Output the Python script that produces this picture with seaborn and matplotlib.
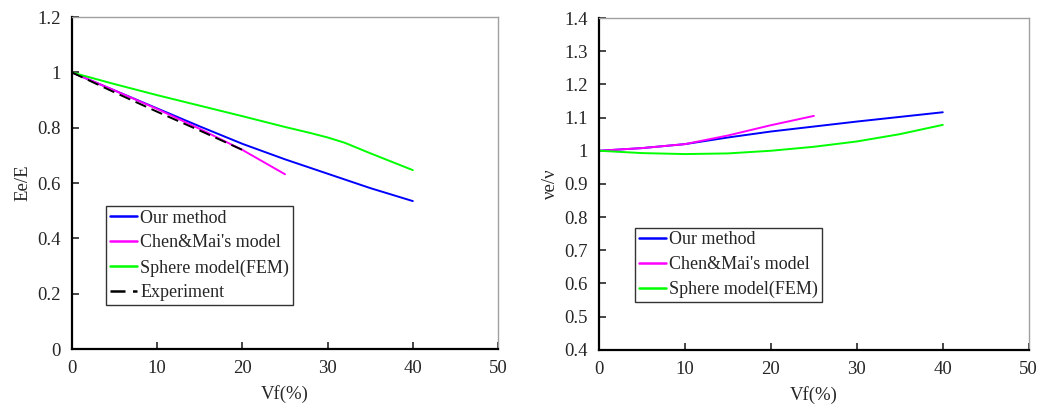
import numpy as np
import pandas as pd
import matplotlib
matplotlib.use("Agg")
import matplotlib.pyplot as plt
import seaborn as sns

# ---- data: left panel (Ee/E) ----
x_our = [0, 5, 10, 15, 20, 25, 30, 35, 40]
e_our = [1.0, 0.935, 0.870, 0.805, 0.742, 0.686, 0.634, 0.582, 0.535]
x_chen = [0, 5, 10, 15, 20, 25]
e_chen = [1.0, 0.935, 0.868, 0.796, 0.720, 0.632]
x_fem = [0, 5, 10, 15, 20, 25, 28, 30, 32, 35, 40]
e_fem = [1.0, 0.958, 0.918, 0.880, 0.842, 0.803, 0.781, 0.765, 0.746, 0.708, 0.647]
x_exp = [0, 5, 10, 15, 20]
e_exp = [1.0, 0.928, 0.858, 0.790, 0.720]

# ---- data: right panel (ve/v) ----
v_our = [1.0, 1.008, 1.020, 1.040, 1.058, 1.073, 1.088, 1.102, 1.116]
v_chen = [1.0, 1.008, 1.020, 1.046, 1.077, 1.105]
x_fem_v = [0, 5, 10, 15, 20, 25, 30, 35, 40]
v_fem = [1.0, 0.993, 0.990, 0.992, 1.000, 1.012, 1.028, 1.050, 1.078]

labels = ["Our method", "Chen&Mai's model", "Sphere model(FEM)", "Experiment"]
colors = {"Our method": "#0000FF", "Chen&Mai's model": "#FF00FF",
          "Sphere model(FEM)": "#00FF00", "Experiment": "#000000"}
dashes = {"Our method": "", "Chen&Mai's model": "", "Sphere model(FEM)": "",
          "Experiment": (6, 3)}

def long_df(parts):
    frames = []
    for name, xs, ys in parts:
        frames.append(pd.DataFrame({"x": xs, "y": ys, "series": name}))
    return pd.concat(frames, ignore_index=True)

df_e = long_df([(labels[0], x_our, e_our), (labels[1], x_chen, e_chen),
                (labels[2], x_fem, e_fem), (labels[3], x_exp, e_exp)])
df_v = long_df([(labels[0], x_our, v_our), (labels[1], x_chen, v_chen),
                (labels[2], x_fem_v, v_fem)])

sns.set_style("white")
plt.rcParams["font.family"] = ["Liberation Serif", "DejaVu Serif"]
plt.rcParams["font.size"] = 13

fig = plt.figure(figsize=(10.48, 4.19), dpi=100)
ax1 = fig.add_axes([0.0687, 0.167, 0.4065, 0.792])
ax2 = fig.add_axes([0.5716, 0.165, 0.410, 0.792])

def style(ax, ylim, yticks, ylabel):
    ax.set_xlim(0, 50)
    ax.set_ylim(*ylim)
    ax.set_xticks([0, 10, 20, 30, 40, 50])
    ax.set_yticks(yticks)
    ax.set_yticklabels([("%g" % t) for t in yticks])
    ax.tick_params(direction="in", length=5, width=1.2, labelsize=13.5,
                   top=False, right=False, left=True, bottom=True, pad=8)
    for s in ["left", "bottom"]:
        ax.spines[s].set_color("black")
        ax.spines[s].set_linewidth(1.6)
    for s in ["top", "right"]:
        ax.spines[s].set_color("#a0a0a0")
        ax.spines[s].set_linewidth(1.0)
    ax.set_xlabel("Vf(%)", fontsize=13.5, labelpad=6)
    ax.set_ylabel(ylabel, fontsize=13.5, labelpad=4)

def legend(ax, anchor):
    leg = ax.legend(loc="lower left", bbox_to_anchor=anchor, fontsize=13,
                    frameon=True, fancybox=False, borderpad=0.2, labelspacing=0.43,
                    handlelength=1.5, handletextpad=0.2, borderaxespad=0)
    leg.get_frame().set_edgecolor("black")
    leg.get_frame().set_linewidth(1.0)
    for line in leg.get_lines():
        line.set_linewidth(1.8)

sns.lineplot(data=df_e, x="x", y="y", hue="series", style="series",
             palette=colors, dashes=dashes, hue_order=labels, style_order=labels,
             linewidth=1.4, ax=ax1, sort=False)
style(ax1, (0, 1.2), [0, 0.2, 0.4, 0.6, 0.8, 1.0, 1.2], "Ee/E")
legend(ax1, (0.08, 0.133))

sns.lineplot(data=df_v, x="x", y="y", hue="series", style="series",
             palette=colors, dashes=dashes, hue_order=labels[:3], style_order=labels[:3],
             linewidth=1.4, ax=ax2, sort=False)
style(ax2, (0.4, 1.4), [0.4, 0.5, 0.6, 0.7, 0.8, 0.9, 1.0, 1.1, 1.2, 1.3, 1.4], "νe/ν")
legend(ax2, (0.084, 0.145))

fig.savefig("out.png", dpi=100)
